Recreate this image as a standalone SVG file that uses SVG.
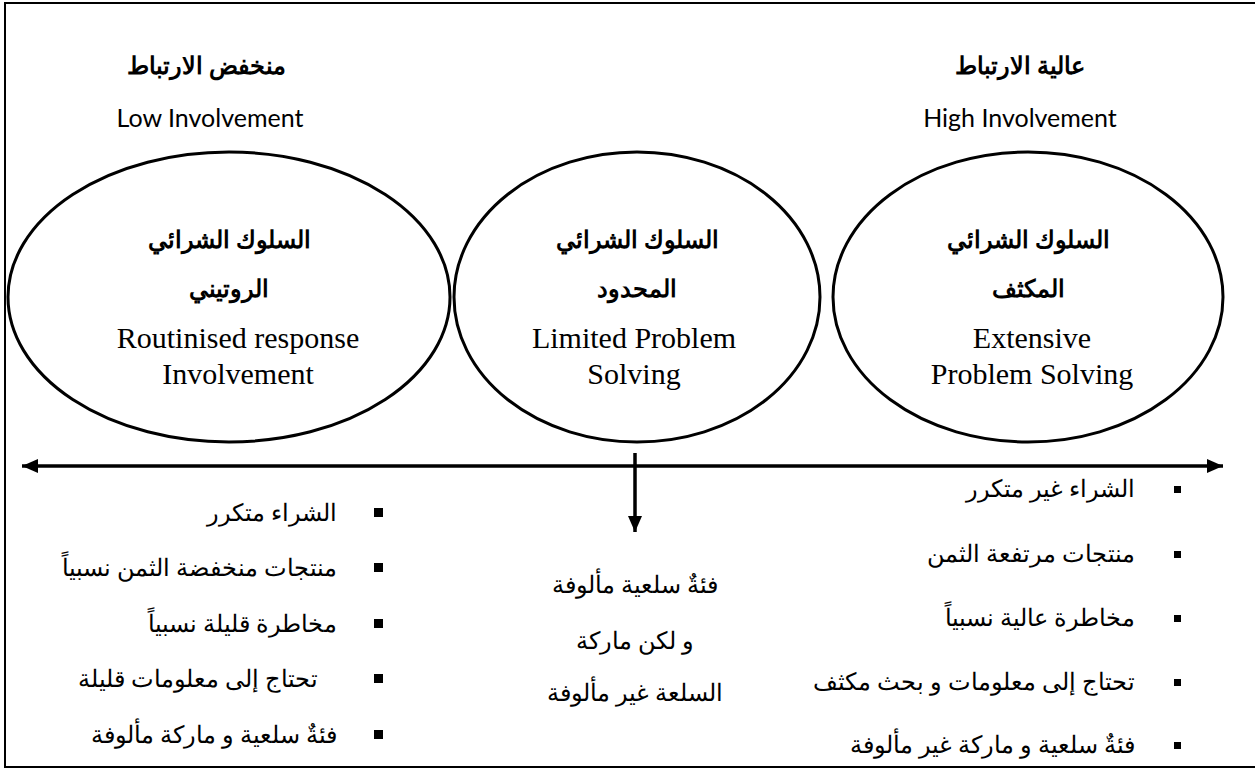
<svg xmlns="http://www.w3.org/2000/svg" width="1255" height="769" viewBox="0 0 1255 769">
  <style>
    .frame { fill: none; stroke: #000; stroke-width: 2; }
    .oval { fill: #fff; stroke: #000; stroke-width: 3; }
    .line { stroke: #000; stroke-width: 3.5; fill: none; }
    .ar { font-family: "Liberation Serif", "DejaVu Serif", serif; fill: #000; }
    .arb { font-family: "Liberation Serif", "DejaVu Serif", serif; font-weight: bold; font-size: 24px; fill: #000; }
    .en { font-family: "Lato", "Open Sans", sans-serif; font-size: 25px; fill: #000; }
    .tm { font-family: "Liberation Serif", serif; font-size: 30px; fill: #000; }
    .item { font-size: 24px; }
    .bul { fill: #000; }
  </style>
  <defs>
    <marker id="head" viewBox="0 0 16 14" refX="16" refY="7" markerWidth="16" markerHeight="14" markerUnits="userSpaceOnUse" orient="auto-start-reverse">
      <path d="M0,0 L16,7 L0,14 Z" fill="#000"/>
    </marker>
  </defs>

  <rect width="1255" height="769" fill="#fff"/>
  <!-- outer frame, open on the right -->
  <path class="frame" d="M1257,3 L5,3 L5,767 L1257,767"/>

  <!-- involvement headings -->
  <g id="low-involvement">
    <text class="arb" x="206" y="74" text-anchor="middle">منخفض الارتباط</text>
    <text class="en" x="210" y="127" text-anchor="middle">Low Involvement</text>
  </g>
  <g id="high-involvement">
    <text class="arb" x="1020" y="74" text-anchor="middle">عالية الارتباط</text>
    <text class="en" x="1020" y="127" text-anchor="middle">High Involvement</text>
  </g>

  <!-- three decision-making types -->
  <g id="routinised">
    <ellipse class="oval" cx="229" cy="297" rx="221" ry="145"/>
    <text class="arb" x="229" y="248" text-anchor="middle">السلوك الشرائي</text>
    <text class="arb" x="229" y="297" text-anchor="middle">الروتيني</text>
    <text class="tm" x="238" y="348" text-anchor="middle">Routinised response</text>
    <text class="tm" x="238" y="384" text-anchor="middle">Involvement</text>
  </g>
  <g id="limited">
    <ellipse class="oval" cx="637" cy="297" rx="183" ry="145"/>
    <text class="arb" x="637" y="248" text-anchor="middle">السلوك  الشرائي</text>
    <text class="arb" x="637" y="297" text-anchor="middle">المحدود</text>
    <text class="tm" x="634" y="348" text-anchor="middle">Limited Problem</text>
    <text class="tm" x="634" y="384" text-anchor="middle">Solving</text>
  </g>
  <g id="extensive">
    <ellipse class="oval" cx="1028" cy="297" rx="195" ry="145"/>
    <text class="arb" x="1028" y="248" text-anchor="middle">السلوك الشرائي</text>
    <text class="arb" x="1028" y="297" text-anchor="middle">المكثف</text>
    <text class="tm" x="1032" y="348" text-anchor="middle">Extensive</text>
    <text class="tm" x="1032" y="384" text-anchor="middle">Problem Solving</text>
  </g>

  <!-- involvement axis and the pointer to the middle case -->
  <g id="connectors">
    <line class="line" x1="22" y1="466" x2="1223" y2="466" marker-start="url(#head)" marker-end="url(#head)"/>
    <line class="line" x1="635" y1="453" x2="635" y2="532" marker-end="url(#head)"/>
  </g>

  <!-- low involvement traits -->
  <g id="low-traits">
    <rect class="bul" x="374" y="508" width="9" height="9"/>
    <rect class="bul" x="374" y="563" width="9" height="9"/>
    <rect class="bul" x="374" y="619" width="9" height="9"/>
    <rect class="bul" x="374" y="674" width="9" height="9"/>
    <rect class="bul" x="374" y="730" width="9" height="9"/>
    <text class="ar item" x="337" y="521" text-anchor="end">الشراء متكرر</text>
    <text class="ar item" x="337" y="576" text-anchor="end">منتجات منخفضة الثمن نسبياً</text>
    <text class="ar item" x="337" y="632" text-anchor="end">مخاطرة قليلة نسبياً</text>
    <text class="ar item" x="318" y="687" text-anchor="end">تحتاج إلى معلومات قليلة</text>
    <text class="ar item" x="337" y="743" text-anchor="end">فئةٌ سلعية و ماركة  مألوفة</text>
  </g>

  <!-- limited problem solving trait -->
  <g id="middle-trait">
    <text class="ar item" x="635" y="593" text-anchor="middle">فئةٌ سلعية  مألوفة</text>
    <text class="ar item" x="635" y="649" text-anchor="middle">و لكن ماركة</text>
    <text class="ar item" x="635" y="701" text-anchor="middle">السلعة غير مألوفة</text>
  </g>

  <!-- high involvement traits -->
  <g id="high-traits">
    <rect class="bul" x="1174" y="486" width="7" height="7"/>
    <rect class="bul" x="1174" y="551" width="7" height="7"/>
    <rect class="bul" x="1174" y="615" width="7" height="7"/>
    <rect class="bul" x="1174" y="679" width="7" height="7"/>
    <rect class="bul" x="1174" y="742" width="7" height="7"/>
    <text class="ar item" x="1135" y="497" text-anchor="end">الشراء غير متكرر</text>
    <text class="ar item" x="1135" y="562" text-anchor="end">منتجات مرتفعة الثمن</text>
    <text class="ar item" x="1135" y="626" text-anchor="end">مخاطرة عالية نسبياً</text>
    <text class="ar item" x="1135" y="690" text-anchor="end">تحتاج إلى معلومات و بحث مكثف</text>
    <text class="ar item" x="1135" y="753" text-anchor="end">فئةٌ سلعية و ماركة غير مألوفة</text>
  </g>
</svg>
